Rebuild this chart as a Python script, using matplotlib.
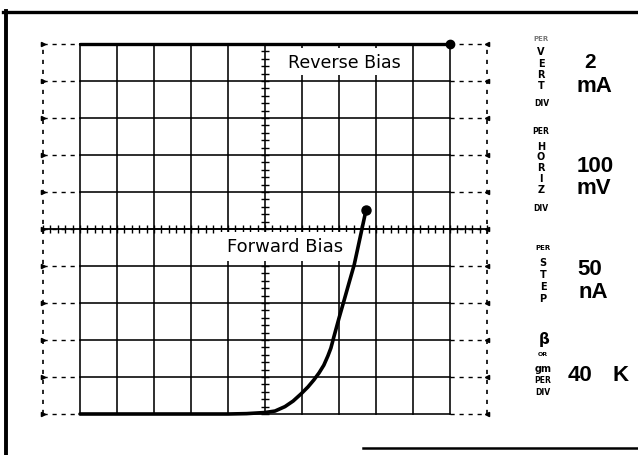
import matplotlib
matplotlib.use('Agg')
import matplotlib.pyplot as plt
import numpy as np
from matplotlib.lines import Line2D
from matplotlib.patches import Rectangle

# ---------------- data (in screen divisions, origin at graticule centre) -------------
forward_x = [-5.0, -1.0, -0.5, 0.0, 0.27, 0.54, 0.76, 0.97, 1.16, 1.32, 1.46, 1.59,
             1.70, 1.78, 1.86, 2.00, 2.14, 2.27, 2.41, 2.51, 2.62, 2.73]
forward_y = [-5.0, -5.0, -4.99, -4.96, -4.92, -4.80, -4.65, -4.46, -4.27, -4.08, -3.89,
             -3.68, -3.43, -3.22, -2.92, -2.41, -1.92, -1.46, -0.97, -0.51, 0.0, 0.51]
reverse_x = [-5.0, 5.0]
reverse_y = [5.0, 5.0]

trace_labels = ["Reverse Bias", "Forward Bias"]

vert_value, vert_unit = "2", "mA"
horiz_value, horiz_unit = "100", "mV"
step_value, step_unit = "50", "nA"
beta_value, beta_unit = "40", "K"

# ---------------- layout (pixels) ----------------
W, H = 638, 456
DIV = 37.0
CX, CY = 265.0, 230.0

fig = plt.figure(figsize=(W / 100, H / 100), dpi=100)
fig.patch.set_facecolor('white')
ax = fig.add_axes([(CX - 6 * DIV) / W, 1 - (CY + 5 * DIV) / H, 12 * DIV / W, 10 * DIV / H])
ax.set_xlim(-6, 6)
ax.set_ylim(-5, 5)
ax.axis('off')

K = 'black'
glw = 1.15
# solid graticule
for k in range(-5, 6):
    ax.plot([k, k], [-5, 5], color=K, lw=glw, clip_on=False, zorder=1)
    ax.plot([-5, 5], [k, k], color=K, lw=glw, clip_on=False, zorder=1)
    # dashed extensions
    ax.plot([-6, -5], [k, k], color=K, lw=1.0, ls=(0, (3, 3.5)), clip_on=False, zorder=1)
    ax.plot([5, 6], [k, k], color=K, lw=1.0, ls=(0, (3, 3.5)), clip_on=False, zorder=1)
ax.plot([-6, -6], [-5, 5], color=K, lw=1.2, ls=(0, (2.5, 3.5)), clip_on=False, zorder=1)
ax.plot([6, 6], [-5, 5], color=K, lw=1.2, ls=(0, (2.5, 3.5)), clip_on=False, zorder=1)
edge_y = np.arange(-5, 6)
ax.plot(np.full(edge_y.shape, -6.0), edge_y, ls='none', marker='>', ms=3, color=K, clip_on=False)
ax.plot(np.full(edge_y.shape, 6.0), edge_y, ls='none', marker='<', ms=3, color=K, clip_on=False)

# centre lines with minor ticks
ax.plot([-6, 6], [0, 0], color=K, lw=1.3, clip_on=False, zorder=1)
tx = np.arange(-6, 6.001, 0.2)
ax.plot(tx, np.zeros_like(tx), ls='none', marker='|', ms=5.5, mew=1.0, color=K, clip_on=False, zorder=1)
ty = np.arange(-5, 5.001, 0.2)
ax.plot(np.zeros_like(ty), ty, ls='none', marker='_', ms=5.5, mew=1.0, color=K, clip_on=False, zorder=1)

# label boxes
ax.add_patch(Rectangle((0.14, 4.16), 3.78, 0.73, fc='white', ec='none', zorder=3))
ax.text(2.14, 4.5, trace_labels[0], ha='center', va='center', fontsize=12.5,
        family='DejaVu Sans', color=K, zorder=4)
ax.add_patch(Rectangle((-1.27, -0.86), 3.57, 0.78, fc='white', ec='none', zorder=3))
ax.text(0.55, -0.46, trace_labels[1], ha='center', va='center', fontsize=13,
        family='DejaVu Sans', color=K, zorder=4)

# traces
ax.plot(reverse_x, reverse_y, color=K, lw=2.4, solid_capstyle='round', clip_on=False, zorder=5)
ax.plot(reverse_x[-1:], reverse_y[-1:], 'o', ms=6, color=K, clip_on=False, zorder=5)
ax.plot(forward_x, forward_y, color=K, lw=2.6, solid_capstyle='round',
        solid_joinstyle='round', clip_on=False, zorder=5)
ax.plot(forward_x[-1:], forward_y[-1:], 'o', ms=6.5, color=K, clip_on=False, zorder=5)


# ---------------- frame & readout panel (figure pixels) ----------------
def fx(x):
    return x / W


def fy(y):
    return 1 - y / H


fig.add_artist(Line2D([fx(3), fx(638)], [fy(13), fy(13)], color=K, lw=2.4))
fig.add_artist(Line2D([fx(6), fx(6)], [fy(12), fy(456)], color=K, lw=2.8))
fig.add_artist(Line2D([fx(363), fx(638)], [fy(449), fy(449)], color=K, lw=1.8))


def small(x, y, s, size=5.5, color=K, weight='bold'):
    fig.text(fx(x), fy(y), s, ha='center', va='center', fontsize=size,
             fontweight=weight, color=color, family='DejaVu Sans')


def stacked(x, y0, pitch, word, size=7):
    for i, ch in enumerate(word):
        small(x, y0 + i * pitch, ch, size=size)


small(541, 39, "PER", size=5, color='#777777')
stacked(541, 52.5, 11.3, "VERT")
small(542, 103, "DIV")
small(541, 132, "PER")
stacked(541, 146.5, 10.9, "HORIZ")
small(541, 209, "DIV")
small(543, 248, "PER", size=5)
stacked(543, 263.5, 11.8, "STEP")
small(544, 340, "\u03b2", size=11, weight='bold')
small(543, 355, "OR", size=4.5)
small(543, 369, "gm", size=7)
small(543, 381, "PER", size=5.5)
small(543, 393, "DIV", size=5.5)


def big(x, y, s, size):
    fig.text(fx(x), fy(y), s, ha='left', va='center', fontsize=size, fontweight='bold',
             color=K, family='Liberation Sans')


big(584, 63, vert_value, 15)
big(577, 87, vert_unit, 16)
big(577, 167, horiz_value, 16)
big(577, 189, horiz_unit, 16)
big(577, 270, step_value, 16)
big(578, 293, step_unit, 16)
big(568, 376, beta_value, 16)
big(612, 376, beta_unit, 16)

fig.savefig('out.png', dpi=100, facecolor='white')
